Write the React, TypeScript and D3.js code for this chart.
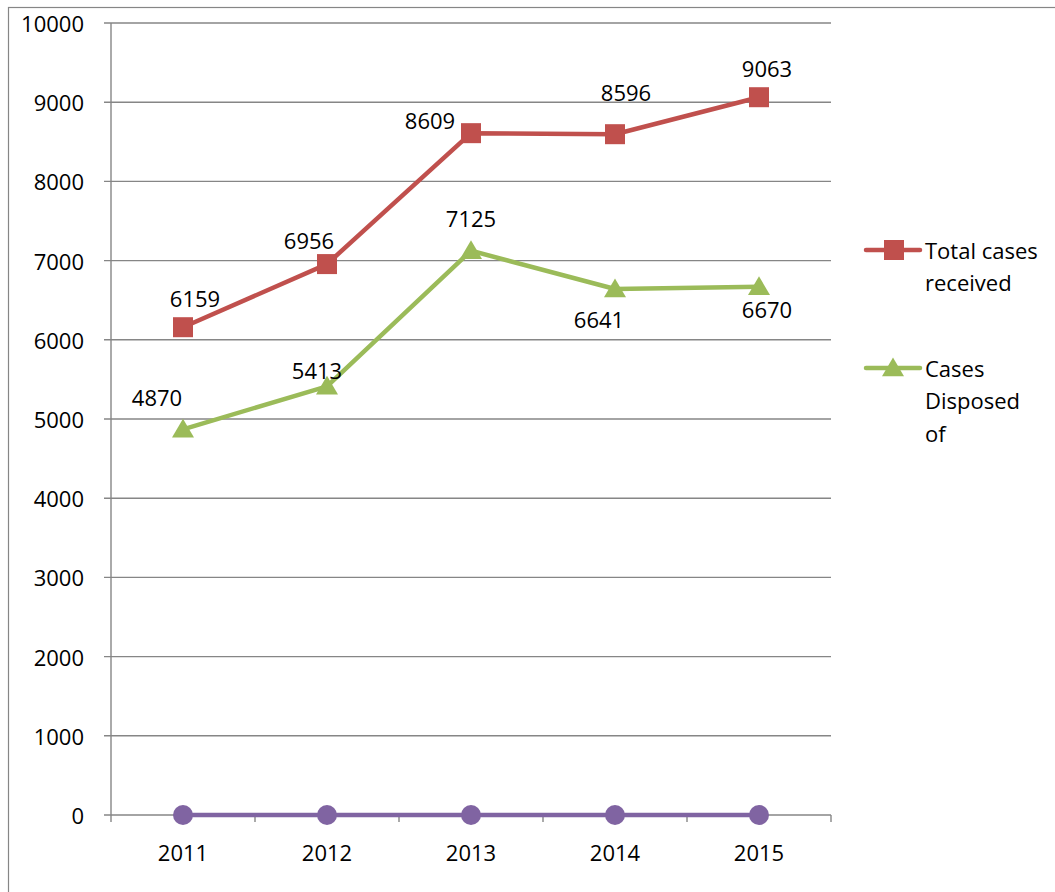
import React from "react";
import * as d3 from "d3";

const years = ["2011", "2012", "2013", "2014", "2015"];
const received = [6159, 6956, 8609, 8596, 9063];
const disposed = [4870, 5413, 7125, 6641, 6670];
const pending = [0, 0, 0, 0, 0];
const yTicks = [0, 1000, 2000, 3000, 4000, 5000, 6000, 7000, 8000, 9000, 10000];
const receivedLabelOffsets: [number, number][] = [[12, -29], [-18, -24], [-41, -13], [11, -42], [8, -29]];
const disposedLabelOffsets: [number, number][] = [[-26, -32], [-10, -16], [0, -33], [-16, 30], [8, 22]];

const RED = "#C0504D";
const GREEN = "#9BBB59";
const PURPLE = "#8064A2";
const GRID = "#868686";
const FONT = "'Open Sans', sans-serif";
const FS = 22;

export default function App() {
  const W = 1055, H = 892;
  const left = 111, right = 831, top = 23, bottom = 815;
  const x = d3.scaleBand<string>().domain(years).range([left, right]);
  const y = d3.scaleLinear().domain([0, 10000]).range([bottom, top]);
  const cx = (yr: string) => (x(yr) as number) + x.bandwidth() / 2;
  const line = d3.line<number>().x((_, i) => cx(years[i])).y((v) => y(v));

  const tri = (px: number, py: number, s: number) =>
    `M${px},${py - s * 0.95} L${px + s},${py + s * 0.75} L${px - s},${py + s * 0.75} Z`;

  return (
    <svg width={W} height={H} style={{ position: "absolute", left: 0, top: 0 }}>
      <rect x={0} y={0} width={W} height={H} fill="#fff" />
      <rect x={8.5} y={7.5} width={W + 20} height={H + 20} fill="none" stroke={GRID} strokeWidth={1.2} />
      {yTicks.map((t) => (
        <g key={t}>
          <line x1={left - 7} x2={right} y1={y(t)} y2={y(t)} stroke={GRID} strokeWidth={1.4} />
          <text x={84} y={y(t)} textAnchor="end" dominantBaseline="central" fontFamily={FONT} fontSize={FS} fill="#000">
            {t}
          </text>
        </g>
      ))}
      <line x1={left} x2={left} y1={top} y2={bottom} stroke={GRID} strokeWidth={1.4} />
      {[...years.map((yr) => x(yr) as number), right].map((p, i) => (
        <line key={i} x1={p} x2={p} y1={bottom} y2={bottom + 7} stroke={GRID} strokeWidth={1.4} />
      ))}
      {years.map((yr) => (
        <text key={yr} x={cx(yr)} y={852} textAnchor="middle" dominantBaseline="central" fontFamily={FONT} fontSize={FS} fill="#000">
          {yr}
        </text>
      ))}
      {/* purple series */}
      <path d={line(pending) || ""} fill="none" stroke={PURPLE} strokeWidth={4.5} />
      {pending.map((v, i) => (
        <circle key={i} cx={cx(years[i])} cy={y(v)} r={10} fill={PURPLE} />
      ))}
      {/* red series */}
      <path d={line(received) || ""} fill="none" stroke={RED} strokeWidth={4.5} strokeLinejoin="round" />
      {received.map((v, i) => (
        <rect key={i} x={cx(years[i]) - 10} y={y(v) - 10} width={20} height={20} fill={RED} />
      ))}
      {/* green series */}
      <path d={line(disposed) || ""} fill="none" stroke={GREEN} strokeWidth={4.5} strokeLinejoin="round" />
      {disposed.map((v, i) => (
        <path key={i} d={tri(cx(years[i]), y(v), 11)} fill={GREEN} />
      ))}
      {received.map((v, i) => (
        <text key={i} x={cx(years[i]) + receivedLabelOffsets[i][0]} y={y(v) + receivedLabelOffsets[i][1]} textAnchor="middle" dominantBaseline="central" fontFamily={FONT} fontSize={FS} fill="#000">
          {v}
        </text>
      ))}
      {disposed.map((v, i) => (
        <text key={i} x={cx(years[i]) + disposedLabelOffsets[i][0]} y={y(v) + disposedLabelOffsets[i][1]} textAnchor="middle" dominantBaseline="central" fontFamily={FONT} fontSize={FS} fill="#000">
          {v}
        </text>
      ))}
      {/* legend */}
      <line x1={866} x2={920} y1={250} y2={250} stroke={RED} strokeWidth={4.5} strokeLinecap="round" />
      <rect x={884} y={240} width={20} height={20} fill={RED} />
      <text fontFamily={FONT} fontSize={FS} fill="#000">
        <tspan x={925} y={250} dominantBaseline="central">Total cases</tspan>
        <tspan x={925} y={282} dominantBaseline="central">received</tspan>
      </text>
      <line x1={866} x2={920} y1={368} y2={368} stroke={GREEN} strokeWidth={4.5} strokeLinecap="round" />
      <path d={tri(893, 368, 11)} fill={GREEN} />
      <text fontFamily={FONT} fontSize={FS} fill="#000">
        <tspan x={925} y={368} dominantBaseline="central">Cases</tspan>
        <tspan x={925} y={400} dominantBaseline="central">Disposed</tspan>
        <tspan x={925} y={433} dominantBaseline="central">of</tspan>
      </text>
    </svg>
  );
}
